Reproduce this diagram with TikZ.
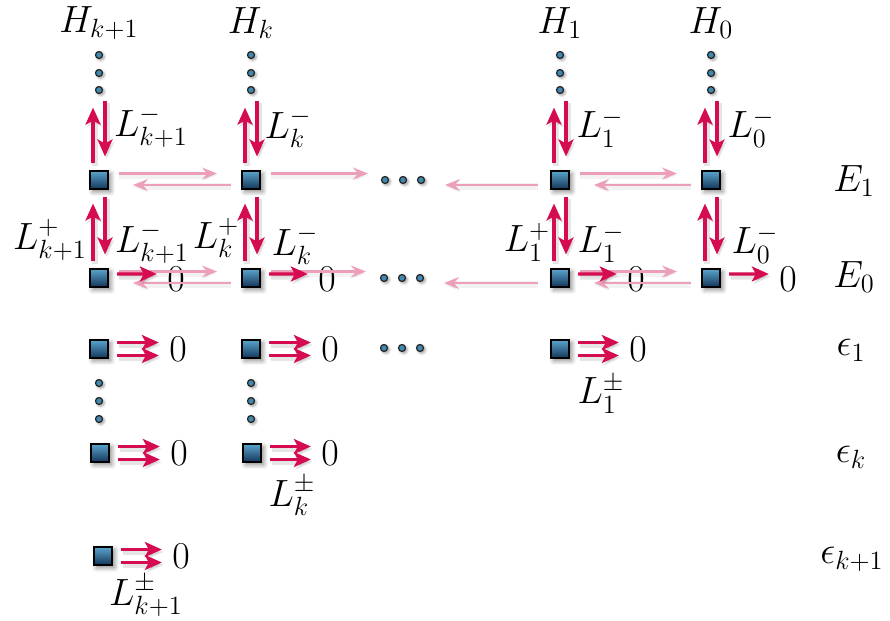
\documentclass[tikz,border=0pt]{standalone}
\usetikzlibrary{arrows.meta,shadows.blur}

\definecolor{arrowred}{RGB}{214,12,82}
\definecolor{arrowpink}{RGB}{236,158,186}
\definecolor{boxtop}{RGB}{92,166,206}
\definecolor{boxbot}{RGB}{18,52,88}
\definecolor{dotfill}{RGB}{64,136,178}

\begin{document}
\begin{tikzpicture}[x=0.02cm,y=-0.02cm]
        \tikzset{sq/.style = {rectangle, draw=black, line width=0.9pt, minimum size=0.37cm, inner sep=0pt,
                 top color=boxtop, bottom color=boxbot,
                 blur shadow={shadow xshift=1.5pt, shadow yshift=-1.5pt, shadow blur radius=2.5pt, shadow opacity=45}}}
        \tikzset{dt/.style = {circle, draw=black!85, line width=0.7pt, minimum size=0.14cm, inner sep=0pt, fill=dotfill,
                 blur shadow={shadow xshift=1pt, shadow yshift=-1pt, shadow blur radius=1.5pt, shadow opacity=40}}}
        \tikzset{lbl/.style = {font=\LARGE, scale=1.25, inner sep=0pt}}
        \tikzset{shade/.style = {preaction={draw=black, opacity=0.1, line width=3.5pt,
                 transform canvas={xshift=1pt, yshift=-1.4pt}}}}
        \tikzset{redarrow/.style = {shade, draw=arrowred, line width=1.8pt, -{Stealth[length=0.34cm,width=0.3cm,inset=0.08cm]},
                 shorten <=0.13cm, shorten >=0.27cm}}
        \tikzset{zeroarrow/.style = {redarrow, shorten <=0.16cm, shorten >=0.2cm}}
        \tikzset{pinkarrow/.style = {draw=arrowpink, line width=1.5pt, -{Stealth[length=0.3cm,width=0.24cm,inset=0.11cm]},
                 shorten <=0.2cm, shorten >=0.48cm,
                 preaction={draw=black, opacity=0.05, line width=4pt, transform canvas={yshift=-1pt}}}}

        \useasboundingbox (0,0) rectangle (890,621);

        % column heads
        \node[lbl] (h1) at (99,23) {$H_{k+1}$};
        \node[lbl] (h2) at (251,23) {$H_k$};
        \node[lbl] (h3) at (560,23) {$H_1$};
        \node[lbl] (h4) at (711,23) {$H_0$};

        % vertical dots under the heads
        \node[dt] (x1ta) at (99,55) {};
        \node[dt] (x1tb) at (99,73) {};
        \node[dt] (x1tc) at (99,90) {};
        \node[dt] (x2ta) at (251,55) {};
        \node[dt] (x2tb) at (251,73) {};
        \node[dt] (x2tc) at (251,90) {};
        \node[dt] (x3ta) at (560,55) {};
        \node[dt] (x3tb) at (560,73) {};
        \node[dt] (x3tc) at (560,90) {};
        \node[dt] (x4ta) at (711,55) {};
        \node[dt] (x4tb) at (711,73) {};
        \node[dt] (x4tc) at (711,90) {};

        % boxes
        \node[sq] (x1E1) at (99,180) {};
        \node[sq] (x2E1) at (251,180) {};
        \node[sq] (x3E1) at (560,180) {};
        \node[sq] (x4E1) at (711,180) {};

        \node[sq] (x1E0) at (99,278) {};
        \node[sq] (x2E0) at (251,278) {};
        \node[sq] (x3E0) at (560,278) {};
        \node[sq] (x4E0) at (711,278) {};

        \node[sq] (x1e1) at (99,349) {};
        \node[sq] (x2e1) at (251,349) {};
        \node[sq] (x3e1) at (560,349) {};

        \node[sq] (x1ek) at (100,453) {};
        \node[sq] (x2ek) at (252,453) {};

        \node[sq] (x1ekk) at (103,556) {};

        % horizontal dots
        \node[dt] (mE1a) at (385,180) {};
        \node[dt] (mE1b) at (403,180) {};
        \node[dt] (mE1c) at (421,180) {};
        \node[dt] (mE0a) at (384,278) {};
        \node[dt] (mE0b) at (402,278) {};
        \node[dt] (mE0c) at (420,278) {};
        \node[dt] (me1a) at (384,348) {};
        \node[dt] (me1b) at (402,348) {};
        \node[dt] (me1c) at (420,348) {};

        % dots between the epsilon rows
        \node[dt] (x1ma) at (99,383) {};
        \node[dt] (x1mb) at (99,401) {};
        \node[dt] (x1mc) at (99,419) {};
        \node[dt] (x2ma) at (251,383) {};
        \node[dt] (x2mb) at (251,401) {};
        \node[dt] (x2mc) at (251,419) {};

        % zeros
        \node[lbl] (z1E0) at (176,279) {$0$};
        \node[lbl] (z2E0) at (327,279) {$0$};
        \node[lbl] (z3E0) at (636,279) {$0$};
        \node[lbl] (z4E0) at (788,279) {$0$};
        \node[lbl] (z1e1) at (178,349) {$0$};
        \node[lbl] (z2e1) at (330,349) {$0$};
        \node[lbl] (z3e1) at (638,349) {$0$};
        \node[lbl] (z1ek) at (179,453) {$0$};
        \node[lbl] (z2ek) at (330,453) {$0$};
        \node[lbl] (z1ekk) at (181,556) {$0$};

        % pink arrows along the rows
        \draw[pinkarrow] ([yshift=0.13cm]x1E1.east) -- ([yshift=0.13cm]x2E1.west);
        \draw[pinkarrow] ([yshift=-0.1cm]x2E1.west) -- ([yshift=-0.1cm]x1E1.east);
        \draw[pinkarrow, shorten >=0.26cm] ([yshift=0.13cm]x2E1.east) -- ([yshift=0.13cm]mE1a.west);
        \draw[pinkarrow, shorten <=0.24cm, shorten >=0.4cm] ([yshift=-0.1cm]x3E1.west) -- ([yshift=-0.1cm]mE1c.east);
        \draw[pinkarrow] ([yshift=0.13cm]x3E1.east) -- ([yshift=0.13cm]x4E1.west);
        \draw[pinkarrow] ([yshift=-0.1cm]x4E1.west) -- ([yshift=-0.1cm]x3E1.east);

        \draw[pinkarrow] ([yshift=0.13cm]x1E0.east) -- ([yshift=0.13cm]x2E0.west);
        \draw[pinkarrow] ([yshift=-0.1cm]x2E0.west) -- ([yshift=-0.1cm]x1E0.east);
        \draw[pinkarrow, shorten >=0.28cm] ([yshift=0.13cm]x2E0.east) -- ([yshift=0.13cm]mE0a.west);
        \draw[pinkarrow, shorten <=0.24cm, shorten >=0.4cm] ([yshift=-0.1cm]x3E0.west) -- ([yshift=-0.1cm]mE0c.east);
        \draw[pinkarrow] ([yshift=0.13cm]x3E0.east) -- ([yshift=0.13cm]x4E0.west);
        \draw[pinkarrow] ([yshift=-0.1cm]x4E0.west) -- ([yshift=-0.1cm]x3E0.east);

        % red arrows up and down the columns
        \draw[redarrow] ([xshift=-0.12cm]x1E1.north) -- ([xshift=-0.12cm]x1tc.south);
        \draw[redarrow] ([xshift=0.12cm]x1tc.south) -- ([xshift=0.12cm]x1E1.north);
        \draw[redarrow] ([xshift=-0.12cm]x2E1.north) -- ([xshift=-0.12cm]x2tc.south);
        \draw[redarrow] ([xshift=0.12cm]x2tc.south) -- ([xshift=0.12cm]x2E1.north);
        \draw[redarrow] ([xshift=-0.12cm]x3E1.north) -- ([xshift=-0.12cm]x3tc.south);
        \draw[redarrow] ([xshift=0.12cm]x3tc.south) -- ([xshift=0.12cm]x3E1.north);
        \draw[redarrow] ([xshift=-0.12cm]x4E1.north) -- ([xshift=-0.12cm]x4tc.south);
        \draw[redarrow] ([xshift=0.12cm]x4tc.south) -- ([xshift=0.12cm]x4E1.north);

        \draw[redarrow] ([xshift=-0.12cm]x1E0.north) -- ([xshift=-0.12cm]x1E1.south);
        \draw[redarrow] ([xshift=0.12cm]x1E1.south) -- ([xshift=0.12cm]x1E0.north);
        \draw[redarrow] ([xshift=-0.12cm]x2E0.north) -- ([xshift=-0.12cm]x2E1.south);
        \draw[redarrow] ([xshift=0.12cm]x2E1.south) -- ([xshift=0.12cm]x2E0.north);
        \draw[redarrow] ([xshift=-0.12cm]x3E0.north) -- ([xshift=-0.12cm]x3E1.south);
        \draw[redarrow] ([xshift=0.12cm]x3E1.south) -- ([xshift=0.12cm]x3E0.north);
        \draw[redarrow] ([xshift=-0.12cm]x4E0.north) -- ([xshift=-0.12cm]x4E1.south);
        \draw[redarrow] ([xshift=0.12cm]x4E1.south) -- ([xshift=0.12cm]x4E0.north);

        % red arrows to zero
        \draw[zeroarrow] ([yshift=0.08cm]x1E0.east) -- ([yshift=0.1cm]z1E0.west);
        \draw[zeroarrow] ([yshift=0.08cm]x2E0.east) -- ([yshift=0.1cm]z2E0.west);
        \draw[zeroarrow] ([yshift=0.08cm]x3E0.east) -- ([yshift=0.1cm]z3E0.west);
        \draw[zeroarrow] ([yshift=0.08cm]x4E0.east) -- ([yshift=0.1cm]z4E0.west);

        \draw[zeroarrow] ([yshift=0.13cm]x1e1.east) -- ([yshift=0.13cm]z1e1.west);
        \draw[zeroarrow] ([yshift=-0.13cm]x1e1.east) -- ([yshift=-0.13cm]z1e1.west);
        \draw[zeroarrow] ([yshift=0.13cm]x2e1.east) -- ([yshift=0.13cm]z2e1.west);
        \draw[zeroarrow] ([yshift=-0.13cm]x2e1.east) -- ([yshift=-0.13cm]z2e1.west);
        \draw[zeroarrow] ([yshift=0.13cm]x3e1.east) -- ([yshift=0.13cm]z3e1.west);
        \draw[zeroarrow] ([yshift=-0.13cm]x3e1.east) -- ([yshift=-0.13cm]z3e1.west);
        \draw[zeroarrow] ([yshift=0.13cm]x1ek.east) -- ([yshift=0.13cm]z1ek.west);
        \draw[zeroarrow] ([yshift=-0.13cm]x1ek.east) -- ([yshift=-0.13cm]z1ek.west);
        \draw[zeroarrow] ([yshift=0.13cm]x2ek.east) -- ([yshift=0.13cm]z2ek.west);
        \draw[zeroarrow] ([yshift=-0.13cm]x2ek.east) -- ([yshift=-0.13cm]z2ek.west);
        \draw[zeroarrow] ([yshift=0.13cm]x1ekk.east) -- ([yshift=0.13cm]z1ekk.west);
        \draw[zeroarrow] ([yshift=-0.13cm]x1ekk.east) -- ([yshift=-0.13cm]z1ekk.west);

        % operator labels
        \node[lbl] (lm1) at (151,127) {$L^-_{k+1}$};
        \node[lbl] (lm2) at (288,128) {$L^-_k$};
        \node[lbl] (lm3) at (600,128) {$L^-_1$};
        \node[lbl] (lm4) at (751,128) {$L^-_0$};

        \node[lbl] (lp1) at (50,240) {$L^+_{k+1}$};
        \node[lbl] (ln1) at (152,243) {$L^-_{k+1}$};
        \node[lbl] (lp2) at (216,238) {$L^+_k$};
        \node[lbl] (ln2) at (295,245) {$L^-_k$};
        \node[lbl] (lp3) at (527,242) {$L^+_1$};
        \node[lbl] (ln3) at (601,243) {$L^-_1$};
        \node[lbl] (ln4) at (755,244) {$L^-_0$};

        \node[lbl] (lpm3) at (601,394) {$L^\pm_1$};
        \node[lbl] (lpm2) at (292,496) {$L^\pm_k$};
        \node[lbl] (lpm1) at (146,596) {$L^\pm_{k+1}$};

        % row names
        \node[lbl] (rE1) at (854,181) {$E_1$};
        \node[lbl] (rE0) at (854,277) {$E_0$};
        \node[lbl] (re1) at (851,350) {$\epsilon_1$};
        \node[lbl] (rek) at (851,457) {$\epsilon_k$};
        \node[lbl] (rekk) at (852,559) {$\epsilon_{k+1}$};

        \end{tikzpicture}
\end{document}
